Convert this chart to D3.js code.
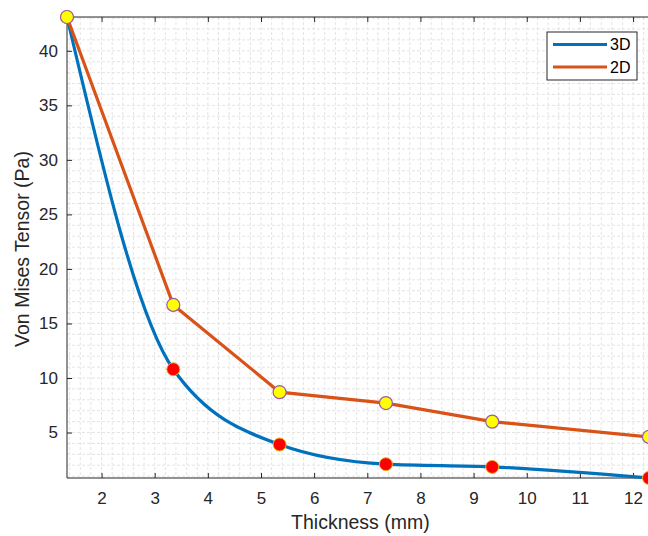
<!DOCTYPE html>
<html>
<head>
<meta charset="utf-8">
<script src="https://cdn.jsdelivr.net/npm/d3@7"></script>
<style>
    body { margin: 0; background: #fff; }
    svg { display: block; font-family: "Liberation Sans", Arial, sans-serif; }
    .tick text { fill: #262626; font-size: 17px; }
</style>
</head>
<body>
<div id="chart"></div>
<script>
// data
var thickness = [1.35, 3.35, 5.35, 7.35, 9.35, 12.3];
var stress3D = [43.1, 10.8, 3.9, 2.1, 1.85, 0.83];
var stress2D = [43.1, 16.7, 8.7, 7.7, 6.0, 4.6];
var xTicks = [2, 3, 4, 5, 6, 7, 8, 9, 10, 11, 12];
var yTicks = [5, 10, 15, 20, 25, 30, 35, 40];
var seriesNames = ["3D", "2D"];

var W = 648, H = 536;
var margin = {top: 17, right: -1, bottom: 58, left: 67};
var width = W - margin.left - margin.right,
    height = H - margin.top - margin.bottom;

var x = d3.scaleLinear().domain([1.35, 12.3]).range([0, width]);
var y = d3.scaleLinear().domain([0.83, 43.1]).range([height, 0]);

var svg = d3.select("#chart").append("svg")
    .attr("width", W)
    .attr("height", H);

var chart = svg.append("g")
    .attr("transform", "translate(" + margin.left + "," + margin.top + ")");

// grid (minor + major)
var grid = chart.append("g").attr("class", "grid");
var xMinor = d3.range(1.4, 12.31, 0.2);
var yMinor = d3.range(1, 43.1, 1);

grid.selectAll(".vx")
    .data(xMinor)
    .enter().append("line")
    .attr("x1", function (d) { return x(d); })
    .attr("x2", function (d) { return x(d); })
    .attr("y1", 0)
    .attr("y2", height)
    .style("stroke", "#e4e4e4")
    .style("stroke-width", 1)
    .style("stroke-dasharray", "3,2");

grid.selectAll(".hy")
    .data(yMinor)
    .enter().append("line")
    .attr("x1", 0)
    .attr("x2", width)
    .attr("y1", function (d) { return y(d); })
    .attr("y2", function (d) { return y(d); })
    .style("stroke", "#e4e4e4")
    .style("stroke-width", 1)
    .style("stroke-dasharray", "3,2");

// axes
var xAxis = chart.append("g")
    .attr("class", "x axis")
    .attr("transform", "translate(0," + height + ")")
    .call(d3.axisBottom(x).tickValues(xTicks).tickSize(-5).tickPadding(14).tickFormat(d3.format("d")));

var xAxisTop = chart.append("g")
    .attr("class", "x axis top")
    .call(d3.axisTop(x).tickValues(xTicks).tickSize(-5).tickFormat(""));

var yAxis = chart.append("g")
    .attr("class", "y axis")
    .call(d3.axisLeft(y).tickValues(yTicks).tickSize(-5).tickPadding(9).tickFormat(d3.format("d")));

chart.selectAll(".axis path.domain, .axis line")
    .style("stroke", "#262626")
    .style("stroke-width", 1);
chart.selectAll(".axis path.domain").attr("d", null);
chart.append("line").attr("x1", 0).attr("x2", width).attr("y1", height).attr("y2", height)
    .style("stroke", "#262626");
chart.append("line").attr("x1", 0).attr("x2", width).attr("y1", 0).attr("y2", 0)
    .style("stroke", "#262626");
chart.append("line").attr("x1", 0).attr("x2", 0).attr("y1", 0).attr("y2", height)
    .style("stroke", "#262626");

// lines
var line3D = d3.line()
    .curve(d3.curveMonotoneX)
    .x(function (d, i) { return x(thickness[i]); })
    .y(function (d) { return y(d); });

var line2D = d3.line()
    .curve(d3.curveLinear)
    .x(function (d, i) { return x(thickness[i]); })
    .y(function (d) { return y(d); });

chart.append("path")
    .attr("d", line3D(stress3D))
    .style("fill", "none")
    .style("stroke", "#0072BD")
    .style("stroke-width", 3.2);

chart.selectAll(".m3d")
    .data(stress3D)
    .enter().append("circle")
    .attr("cx", function (d, i) { return x(thickness[i]); })
    .attr("cy", function (d) { return y(d); })
    .attr("r", 6.5)
    .style("fill", "#ff0000")
    .style("stroke", "#EDB120")
    .style("stroke-width", 1);

chart.append("path")
    .attr("d", line2D(stress2D))
    .style("fill", "none")
    .style("stroke", "#D95319")
    .style("stroke-width", 3.2);

chart.selectAll(".m2d")
    .data(stress2D)
    .enter().append("circle")
    .attr("cx", function (d, i) { return x(thickness[i]); })
    .attr("cy", function (d) { return y(d); })
    .attr("r", 6.5)
    .style("fill", "#ffff00")
    .style("stroke", "#9b59a8")
    .style("stroke-width", 1.2);

// legend
var legend = svg.append("g").attr("transform", "translate(547,32)");
legend.append("rect")
    .attr("width", 90)
    .attr("height", 48)
    .style("fill", "#fff")
    .style("stroke", "#262626")
    .style("stroke-width", 1);
var colors = ["#0072BD", "#D95319"];
seriesNames.forEach(function (name, i) {
    legend.append("line")
        .attr("x1", 6).attr("x2", 60)
        .attr("y1", 12.5 + i * 22.5).attr("y2", 12.5 + i * 22.5)
        .style("stroke", colors[i])
        .style("stroke-width", 3.2);
    legend.append("text")
        .attr("x", 63)
        .attr("y", 12.5 + i * 22.5)
        .attr("dy", "0.36em")
        .style("font-size", "16px")
        .style("fill", "#000")
        .text(name);
});

// axis labels
svg.append("text")
    .attr("x", margin.left + x(6.87))
    .attr("y", 529)
    .style("text-anchor", "middle")
    .style("font-size", "19.5px")
    .style("fill", "#262626")
    .text("Thickness (mm)");

svg.append("text")
    .attr("transform", "rotate(-90)")
    .attr("x", -249)
    .attr("y", 29)
    .style("text-anchor", "middle")
    .style("font-size", "19.5px")
    .style("fill", "#262626")
    .text("Von Mises Tensor (Pa)");
</script>
</body>
</html>
